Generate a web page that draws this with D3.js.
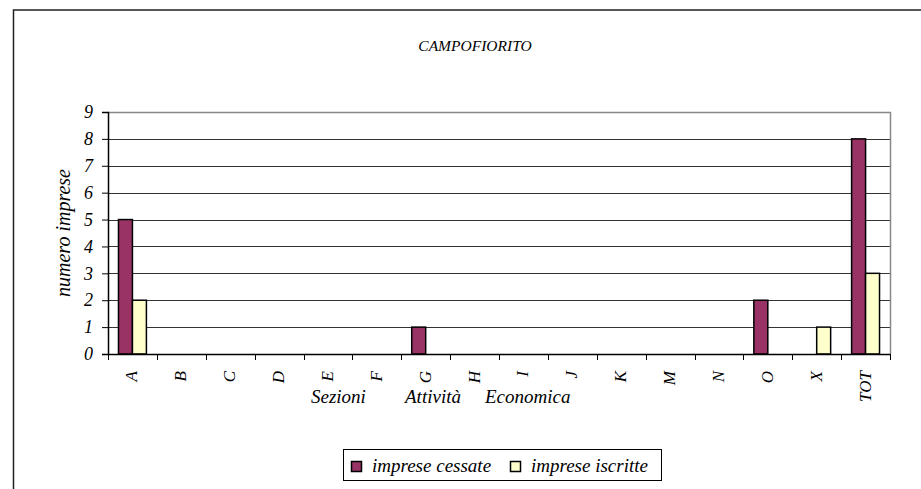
<!DOCTYPE html>
<html><head><meta charset="utf-8">
<script src="https://cdn.jsdelivr.net/npm/d3@7"></script>
<style>
html,body{margin:0;padding:0;background:#fff;}
</style></head>
<body>
<svg id="chart" width="921" height="489" font-family="Liberation Serif, serif" font-style="italic"></svg>
<script>
const categories = ["A","B","C","D","E","F","G","H","I","J","K","M","N","O","X","TOT"];
const cessate = [5,0,0,0,0,0,1,0,0,0,0,0,0,2,0,8];
const iscritte = [2,0,0,0,0,0,0,0,0,0,0,0,0,0,1,3];
const seriesNames = ["imprese cessate","imprese iscritte"];
const seriesColors = ["#993366","#FFFFCC"];
const yTicks = [0,1,2,3,4,5,6,7,8,9];
const chartTitle = "CAMPOFIORITO";
const yTitle = "numero imprese";
const xTitleWords = ["Sezioni","Attività","Economica"];

(function(){
const FONT = "'Liberation Serif', 'DejaVu Serif', serif";
const svg = d3.select("#chart");
function txt(sel, size){
  return sel.attr("font-family",FONT).attr("font-style","italic").attr("font-size",size).attr("fill","#000");
}
// outer frame
svg.append("rect").attr("x",13.5).attr("y",10).attr("width",1000).attr("height",1000)
  .attr("fill","none").attr("stroke","#222").attr("stroke-width",1.5);

const pL=108, pR=890, pT=112, pB=354;
const x = d3.scaleBand().domain(categories).range([pL,pR]);
const y = d3.scaleLinear().domain([0,9]).range([pB,pT]);

// gridlines
svg.append("g").selectAll("line").data(yTicks.filter(t=>t>0 && t<9)).join("line")
  .attr("x1",pL).attr("x2",pR)
  .attr("y1",d=>Math.round(y(d))+0.5).attr("y2",d=>Math.round(y(d))+0.5)
  .attr("stroke","#333").attr("stroke-width",1);
// plot border top/right
svg.append("path").attr("d",`M${pL},${pT+0.5}H${pR+0.5}V${pB}`)
  .attr("fill","none").attr("stroke","#888").attr("stroke-width",1.5);

// bars
const bw = x.bandwidth()/3.5;
const series = [cessate, iscritte];
series.forEach((vals,si)=>{
  svg.append("g").selectAll("rect")
    .data(categories.map((c,i)=>({c,v:vals[i]})).filter(d=>d.v>0))
    .join("rect")
    .attr("x",d=>x(d.c)+bw*0.75+si*bw)
    .attr("y",d=>y(d.v))
    .attr("width",bw)
    .attr("height",d=>y(0)-y(d.v))
    .attr("fill",seriesColors[si]).attr("stroke","#000").attr("stroke-width",1.5);
});

// y axis
const yAxis = svg.append("g").attr("transform",`translate(${pL},0)`)
  .call(d3.axisLeft(y).tickValues(yTicks).tickSize(6).tickPadding(9).tickFormat(d3.format("d")));
yAxis.attr("font-family",FONT).attr("font-size",17);
yAxis.select(".domain").attr("stroke","#000").attr("stroke-width",1.5);
yAxis.selectAll(".tick line").attr("stroke","#000");
txt(yAxis.selectAll("text"),18);

// x axis
const xAxis = svg.append("g").attr("transform",`translate(0,${pB})`);
xAxis.append("line").attr("x1",pL).attr("x2",pR+0.5).attr("y1",0.5).attr("y2",0.5)
  .attr("stroke","#000").attr("stroke-width",1.5);
const boundaries = categories.map(c=>x(c)).concat([pR]);
xAxis.selectAll("line.tk").data(boundaries).join("line").attr("class","tk")
  .attr("x1",d=>Math.round(d)+0.5).attr("x2",d=>Math.round(d)+0.5).attr("y1",0).attr("y2",6)
  .attr("stroke","#000");
txt(xAxis.selectAll("text").data(categories).join("text")
  .attr("transform",d=>`translate(${x(d)+x.bandwidth()/2+5},17) rotate(-90)`)
  .attr("text-anchor","end").text(d=>d),17);

// titles
txt(svg.append("text").attr("x",475).attr("y",51).attr("text-anchor","middle").text(chartTitle),15.5);
txt(svg.append("text").attr("transform",`translate(70,${(pT+pB)/2}) rotate(-90)`)
  .attr("text-anchor","middle").text(yTitle),20);
const xTitleX = [311,405,485];
txt(svg.append("g").selectAll("text").data(xTitleWords).join("text")
  .attr("x",(d,i)=>xTitleX[i]).attr("y",403).text(d=>d),19);

// legend
const lg = svg.append("g");
lg.append("rect").attr("x",343.5).attr("y",449.5).attr("width",318).attr("height",31)
  .attr("fill","#fff").attr("stroke","#000").attr("stroke-width",1);
const legX = [351, 510];
seriesNames.forEach((n,i)=>{
  lg.append("rect").attr("x",legX[i]+0.5).attr("y",461.5).attr("width",10).attr("height",10)
    .attr("fill",seriesColors[i]).attr("stroke","#000").attr("stroke-width",1.5);
  txt(lg.append("text").attr("x",legX[i]+21).attr("y",472).text(n),19);
});
})();
</script>
</body></html>
